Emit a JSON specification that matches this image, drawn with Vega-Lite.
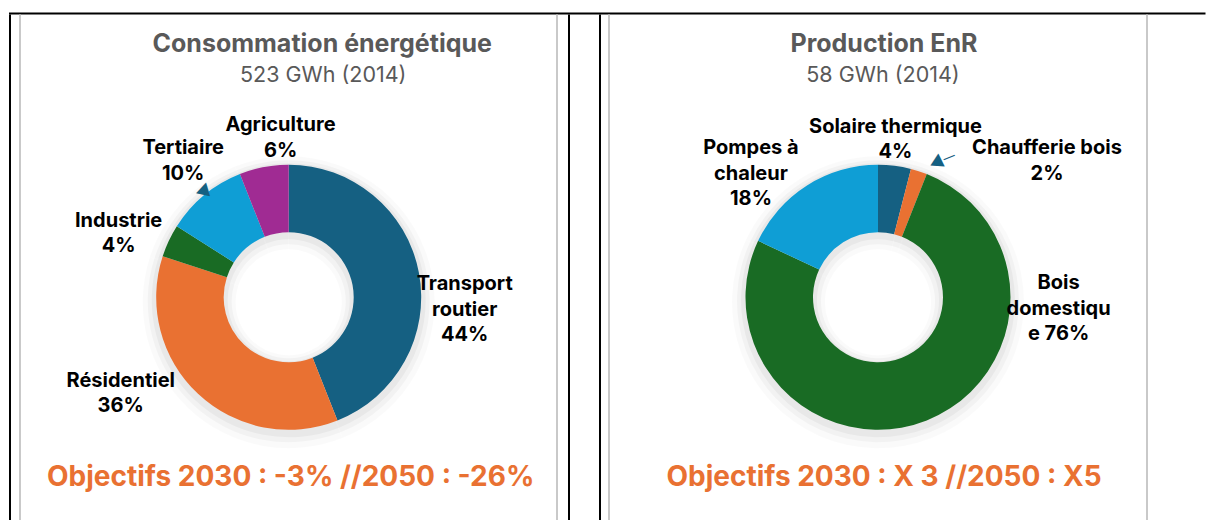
{
  "$schema": "https://vega.github.io/schema/vega-lite/v6.json",
  "padding": {"left": 8.75, "top": 12.25, "right": 0, "bottom": 0},
  "background": "#ffffff",
  "config": {"view": {"stroke": null}, "font": "Inter", "text": {"font": "Inter"}},
  "spacing": -1.75,
  "vconcat": [
    {"width": 1195, "height": 0.5, "view": {"stroke": "#000000", "strokeWidth": 1.5}, "data": {"values": []}, "mark": "text"},
    {
      "spacing": 0,
      "hconcat": [
        {"width": 0.5, "height": 504, "view": {"stroke": "#000000", "strokeWidth": 1.5}, "data": {"values": []}, "mark": "text"},
        {"width": 6.3, "height": 504, "data": {"values": []}, "mark": "text"},
        {"width": 0.5, "height": 504, "view": {"stroke": "#c9c9c9", "strokeWidth": 1.5}, "data": {"values": []}, "mark": "text"},
        {
          "spacing": 0,
          "bounds": "flush",
          "vconcat": [
            {"width": 533.9, "height": 34, "data": {"values": [{"t": "Consommation énergétique"}]}, "mark": {"type": "text", "fontSize": 25, "fontWeight": "bold", "color": "#595959", "baseline": "top", "dx": 33.5}, "encoding": {"text": {"field": "t", "type": "nominal"}}},
            {"width": 533.9, "height": 31, "data": {"values": [{"t": "523 GWh (2014)"}]}, "mark": {"type": "text", "fontSize": 21.5, "color": "#595959", "baseline": "top", "dx": 34.5}, "encoding": {"text": {"field": "t", "type": "nominal"}}},
            {"width": 533.9, "height": 77, "data": {"values": []}, "mark": "text"},
            {
              "width": 533.9,
              "height": 280,
              "data": {"values": [
                {"cat": "Transport routier", "pct": 44, "ord": 1, "label": "Transport\nroutier\n44%"},
                {"cat": "Résidentiel", "pct": 36, "ord": 2, "label": "Résidentiel\n36%"},
                {"cat": "Industrie", "pct": 4, "ord": 3, "label": "Industrie\n4%"},
                {"cat": "Tertiaire", "pct": 10, "ord": 4, "label": "Tertiaire\n10%"},
                {"cat": "Agriculture", "pct": 6, "ord": 5, "label": "Agriculture\n6%"}
              ]},
              "layer": [
                {"mark": {"type": "arc", "outerRadius": 146, "innerRadius": 53, "color": "#000000", "opacity": 0.018, "yOffset": 5}, "encoding": {"theta": {"field": "pct", "type": "quantitative", "stack": true}, "order": {"field": "ord", "type": "quantitative"}}},
                {"mark": {"type": "arc", "outerRadius": 141, "innerRadius": 57, "color": "#000000", "opacity": 0.03, "yOffset": 4}, "encoding": {"theta": {"field": "pct", "type": "quantitative", "stack": true}, "order": {"field": "ord", "type": "quantitative"}}},
                {"mark": {"type": "arc", "outerRadius": 137, "innerRadius": 61, "color": "#000000", "opacity": 0.04, "yOffset": 3}, "encoding": {"theta": {"field": "pct", "type": "quantitative", "stack": true}, "order": {"field": "ord", "type": "quantitative"}}},
                {"mark": {"type": "arc", "outerRadius": 132.5, "innerRadius": 65}, "encoding": {"theta": {"field": "pct", "type": "quantitative", "stack": true}, "order": {"field": "ord", "type": "quantitative"}, "color": {"field": "cat", "type": "nominal", "scale": {"domain": ["Transport routier", "Résidentiel", "Industrie", "Tertiaire", "Agriculture"], "range": ["#156082", "#E97132", "#196B24", "#0F9ED5", "#A02B93"]}, "legend": null}}},
                {"mark": {"type": "text", "radius": 175.3, "dx": 3.8, "dy": 19.9, "fontSize": 20, "fontWeight": "bold", "color": "#000000", "lineBreak": "\n", "lineHeight": 25.5, "baseline": "middle", "align": "center"}, "encoding": {"theta": {"field": "pct", "type": "quantitative", "stack": true}, "order": {"field": "ord", "type": "quantitative"}, "detail": {"field": "cat", "type": "nominal"}, "text": {"condition": {"test": "datum.cat === 'Transport routier'", "field": "label", "type": "nominal"}, "value": ""}}},
                {"mark": {"type": "text", "radius": 175.7, "dx": -47.7, "dy": -44.8, "fontSize": 20, "fontWeight": "bold", "color": "#000000", "lineBreak": "\n", "lineHeight": 25.5, "baseline": "middle", "align": "center"}, "encoding": {"theta": {"field": "pct", "type": "quantitative", "stack": true}, "order": {"field": "ord", "type": "quantitative"}, "detail": {"field": "cat", "type": "nominal"}, "text": {"condition": {"test": "datum.cat === 'Résidentiel'", "field": "label", "type": "nominal"}, "value": ""}}},
                {"mark": {"type": "text", "radius": 186.5, "dx": -1.3, "dy": 2.7, "fontSize": 20, "fontWeight": "bold", "color": "#000000", "lineBreak": "\n", "lineHeight": 25.5, "baseline": "middle", "align": "center"}, "encoding": {"theta": {"field": "pct", "type": "quantitative", "stack": true}, "order": {"field": "ord", "type": "quantitative"}, "detail": {"field": "cat", "type": "nominal"}, "text": {"condition": {"test": "datum.cat === 'Industrie'", "field": "label", "type": "nominal"}, "value": ""}}},
                {"mark": {"type": "text", "radius": 182, "dx": 10.5, "dy": -8.8, "fontSize": 20, "fontWeight": "bold", "color": "#000000", "lineBreak": "\n", "lineHeight": 25.5, "baseline": "middle", "align": "center"}, "encoding": {"theta": {"field": "pct", "type": "quantitative", "stack": true}, "order": {"field": "ord", "type": "quantitative"}, "detail": {"field": "cat", "type": "nominal"}, "text": {"condition": {"test": "datum.cat === 'Tertiaire'", "field": "label", "type": "nominal"}, "value": ""}}},
                {"mark": {"type": "text", "radius": 170.5, "dx": 23.8, "dy": -4.5, "fontSize": 20, "fontWeight": "bold", "color": "#000000", "lineBreak": "\n", "lineHeight": 25.5, "baseline": "middle", "align": "center"}, "encoding": {"theta": {"field": "pct", "type": "quantitative", "stack": true}, "order": {"field": "ord", "type": "quantitative"}, "detail": {"field": "cat", "type": "nominal"}, "text": {"condition": {"test": "datum.cat === 'Agriculture'", "field": "label", "type": "nominal"}, "value": ""}}},
                {"mark": {"type": "text", "radius": 135.2, "dx": -2.8, "dy": -0.4, "angle": 133, "fontSize": 16, "color": "#156082", "baseline": "middle", "align": "center"}, "encoding": {"theta": {"field": "pct", "type": "quantitative", "stack": true}, "order": {"field": "ord", "type": "quantitative"}, "detail": {"field": "cat", "type": "nominal"}, "text": {"condition": {"test": "datum.cat === 'Tertiaire'", "value": "▲"}, "value": ""}}}
              ]
            },
            {"width": 533.9, "height": 53, "data": {"values": [{"t": "Objectifs 2030 : -3% //2050 : -26%"}]}, "mark": {"type": "text", "fontSize": 28, "fontWeight": "bold", "color": "#E97132", "baseline": "top", "dx": 2}, "encoding": {"text": {"field": "t", "type": "nominal"}}}
          ]
        },
        {"width": 0.5, "height": 504, "view": {"stroke": "#c9c9c9", "strokeWidth": 1.5}, "data": {"values": []}, "mark": "text"},
        {"width": 8.8, "height": 504, "data": {"values": []}, "mark": "text"},
        {"width": 0.5, "height": 504, "view": {"stroke": "#000000", "strokeWidth": 1.5}, "data": {"values": []}, "mark": "text"},
        {"width": 27.5, "height": 504, "data": {"values": []}, "mark": "text"},
        {"width": 0.5, "height": 504, "view": {"stroke": "#000000", "strokeWidth": 1.5}, "data": {"values": []}, "mark": "text"},
        {"width": 5.5, "height": 504, "data": {"values": []}, "mark": "text"},
        {"width": 0.5, "height": 504, "view": {"stroke": "#c9c9c9", "strokeWidth": 1.5}, "data": {"values": []}, "mark": "text"},
        {
          "spacing": 0,
          "bounds": "flush",
          "vconcat": [
            {"width": 534.5, "height": 34, "data": {"values": [{"t": "Production EnR"}]}, "mark": {"type": "text", "fontSize": 25, "fontWeight": "bold", "color": "#595959", "baseline": "top", "dx": 6}, "encoding": {"text": {"field": "t", "type": "nominal"}}},
            {"width": 534.5, "height": 31, "data": {"values": [{"t": "58 GWh (2014)"}]}, "mark": {"type": "text", "fontSize": 21.5, "color": "#595959", "baseline": "top", "dx": 5}, "encoding": {"text": {"field": "t", "type": "nominal"}}},
            {"width": 534.5, "height": 77, "data": {"values": []}, "mark": "text"},
            {
              "width": 534.5,
              "height": 280,
              "data": {"values": [
                {"cat": "Solaire thermique", "pct": 4, "ord": 1, "label": "Solaire thermique\n4%"},
                {"cat": "Chaufferie bois", "pct": 2, "ord": 2, "label": "Chaufferie bois\n2%"},
                {"cat": "Bois domestique", "pct": 76, "ord": 3, "label": "Bois\ndomestiqu\ne 76%"},
                {"cat": "Pompes à chaleur", "pct": 18, "ord": 4, "label": "Pompes à\nchaleur\n18%"}
              ]},
              "layer": [
                {"mark": {"type": "arc", "outerRadius": 146, "innerRadius": 53, "color": "#000000", "opacity": 0.018, "yOffset": 5}, "encoding": {"theta": {"field": "pct", "type": "quantitative", "stack": true}, "order": {"field": "ord", "type": "quantitative"}}},
                {"mark": {"type": "arc", "outerRadius": 141, "innerRadius": 57, "color": "#000000", "opacity": 0.03, "yOffset": 4}, "encoding": {"theta": {"field": "pct", "type": "quantitative", "stack": true}, "order": {"field": "ord", "type": "quantitative"}}},
                {"mark": {"type": "arc", "outerRadius": 137, "innerRadius": 61, "color": "#000000", "opacity": 0.04, "yOffset": 3}, "encoding": {"theta": {"field": "pct", "type": "quantitative", "stack": true}, "order": {"field": "ord", "type": "quantitative"}}},
                {"mark": {"type": "arc", "outerRadius": 132.5, "innerRadius": 65}, "encoding": {"theta": {"field": "pct", "type": "quantitative", "stack": true}, "order": {"field": "ord", "type": "quantitative"}, "color": {"field": "cat", "type": "nominal", "scale": {"domain": ["Solaire thermique", "Chaufferie bois", "Bois domestique", "Pompes à chaleur"], "range": ["#156082", "#E97132", "#196B24", "#0F9ED5"]}, "legend": null}}},
                {"mark": {"type": "text", "radius": 171.3, "dx": -4, "dy": -0.4, "fontSize": 20, "fontWeight": "bold", "color": "#000000", "lineBreak": "\n", "lineHeight": 25.5, "baseline": "middle", "align": "center"}, "encoding": {"theta": {"field": "pct", "type": "quantitative", "stack": true}, "order": {"field": "ord", "type": "quantitative"}, "detail": {"field": "cat", "type": "nominal"}, "text": {"condition": {"test": "datum.cat === 'Solaire thermique'", "field": "label", "type": "nominal"}, "value": ""}}},
                {"mark": {"type": "text", "radius": 120, "dx": 131.9, "dy": -34.9, "fontSize": 20, "fontWeight": "bold", "color": "#000000", "lineBreak": "\n", "lineHeight": 25.5, "baseline": "middle", "align": "center"}, "encoding": {"theta": {"field": "pct", "type": "quantitative", "stack": true}, "order": {"field": "ord", "type": "quantitative"}, "detail": {"field": "cat", "type": "nominal"}, "text": {"condition": {"test": "datum.cat === 'Chaufferie bois'", "field": "label", "type": "nominal"}, "value": ""}}},
                {"mark": {"type": "text", "radius": 60, "dx": 158.5, "dy": -69.8, "fontSize": 20, "fontWeight": "bold", "color": "#000000", "lineBreak": "\n", "lineHeight": 25.5, "baseline": "middle", "align": "center"}, "encoding": {"theta": {"field": "pct", "type": "quantitative", "stack": true}, "order": {"field": "ord", "type": "quantitative"}, "detail": {"field": "cat", "type": "nominal"}, "text": {"condition": {"test": "datum.cat === 'Bois domestique'", "field": "label", "type": "nominal"}, "value": ""}}},
                {"mark": {"type": "text", "radius": 193.8, "dx": -23.2, "dy": 14.6, "fontSize": 20, "fontWeight": "bold", "color": "#000000", "lineBreak": "\n", "lineHeight": 25.5, "baseline": "middle", "align": "center"}, "encoding": {"theta": {"field": "pct", "type": "quantitative", "stack": true}, "order": {"field": "ord", "type": "quantitative"}, "detail": {"field": "cat", "type": "nominal"}, "text": {"condition": {"test": "datum.cat === 'Pompes à chaleur'", "field": "label", "type": "nominal"}, "value": ""}}},
                {"mark": {"type": "text", "radius": 146.6, "dx": -10, "dy": 10.4, "angle": 244, "fontSize": 16, "color": "#156082", "baseline": "middle", "align": "center"}, "encoding": {"theta": {"field": "pct", "type": "quantitative", "stack": true}, "order": {"field": "ord", "type": "quantitative"}, "detail": {"field": "cat", "type": "nominal"}, "text": {"condition": {"test": "datum.cat === 'Chaufferie bois'", "value": "▲"}, "value": ""}}},
                {"mark": {"type": "text", "radius": 155, "dx": 18.6, "dy": 15.5, "angle": 338, "fontSize": 12, "color": "#156082", "baseline": "middle", "align": "center"}, "encoding": {"theta": {"field": "pct", "type": "quantitative", "stack": true}, "order": {"field": "ord", "type": "quantitative"}, "detail": {"field": "cat", "type": "nominal"}, "text": {"condition": {"test": "datum.cat === 'Chaufferie bois'", "value": "—"}, "value": ""}}}
              ]
            },
            {"width": 534.5, "height": 53, "data": {"values": [{"t": "Objectifs 2030 : X 3 //2050 : X5"}]}, "mark": {"type": "text", "fontSize": 28, "fontWeight": "bold", "color": "#E97132", "baseline": "top", "dx": 6}, "encoding": {"text": {"field": "t", "type": "nominal"}}}
          ]
        },
        {"width": 0.5, "height": 504, "view": {"stroke": "#c9c9c9", "strokeWidth": 1.5}, "data": {"values": []}, "mark": "text"}
      ]
    }
  ]
}
